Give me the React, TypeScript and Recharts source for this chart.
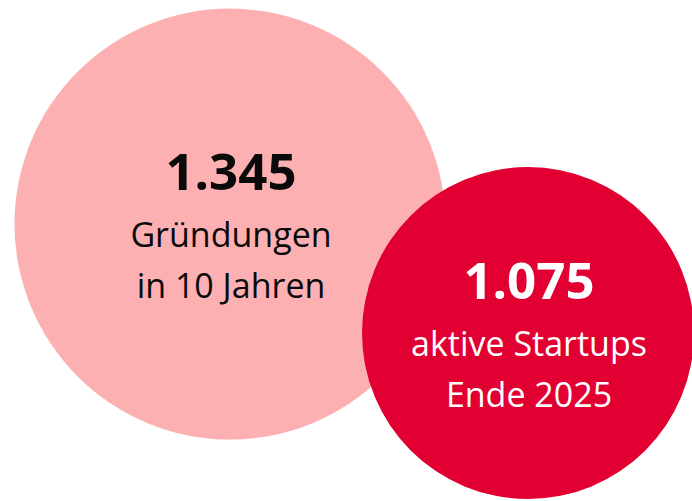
import { ScatterChart, Scatter, XAxis, YAxis, ZAxis } from "recharts";

// two key figures shown as bubbles
const keys = ["gruendungen", "aktiv"];
const values = [1345, 1075];
const captionLine1 = ["Gründungen", "aktive Startups"];
const captionLine2 = ["in 10 Jahren", "Ende 2025"];

const fills = ["#FDB0B2", "#E10031"];
const textColors = ["#0a0a0a", "#ffffff"];

const data = keys.map((k, i) => ({
  key: k,
  value: values[i],
  line1: captionLine1[i],
  line2: captionLine2[i],
  idx: i,
}));

const fmt = (v: number) => String(v).replace(/\B(?=(\d{3})+(?!\d))/g, ".");

const FONT = "'Open Sans', 'Noto Sans', sans-serif";

const Bubble = (props: any) => {
  const { cx, cy, payload } = props;
  const size = props.size ?? Math.PI * Math.pow((props.width || 0) / 2, 2);
  const r = Math.sqrt(Math.max(size, 0) / Math.PI);
  const i = payload.idx;
  const color = textColors[i];
  return (
    <g>
      <circle cx={cx} cy={cy} r={r} fill={fills[i]} />
      <text x={cx + 1} y={cy - 34} textAnchor="middle" fill={color} fontFamily={FONT} fontSize={51} fontWeight={700}>
        {fmt(payload.value)}
      </text>
      <text x={cx + 1} y={cy + 23} textAnchor="middle" fill={color} fontFamily={FONT} fontSize={34}>
        {payload.line1}
      </text>
      <text x={cx + 1} y={cy + 74} textAnchor="middle" fill={color} fontFamily={FONT} fontSize={34}>
        {payload.line2}
      </text>
    </g>
  );
};

export default function App() {
  return (
    <div style={{ position: "absolute", left: 0, top: 0, width: 692, height: 501, background: "#fff" }}>
      <ScatterChart width={692} height={501} margin={{ top: 0, right: 15, bottom: 0, left: 81 }}>
        <XAxis type="category" dataKey="key" hide allowDuplicatedCategory={false} />
        <YAxis type="number" dataKey="value" domain={[659, 1900]} hide />
        <ZAxis type="number" dataKey="value" domain={[1075, 1345]} range={[86570, 145896]} />
        <Scatter data={data} shape={<Bubble />} isAnimationActive={false} />
      </ScatterChart>
    </div>
  );
}
